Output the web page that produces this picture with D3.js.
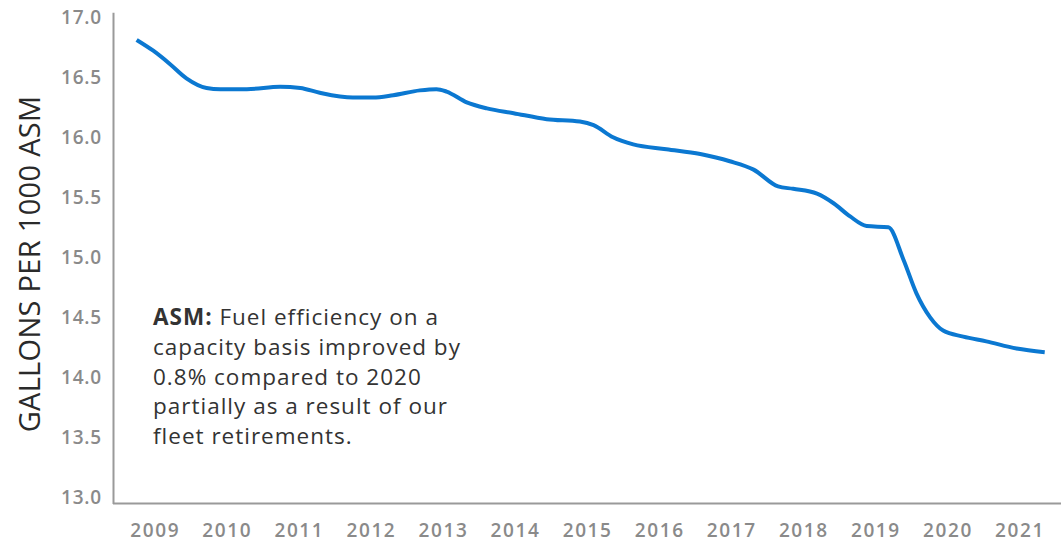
<!DOCTYPE html>
<html>
<head>
<meta charset="utf-8">
<script src="https://cdn.jsdelivr.net/npm/d3@7"></script>
<style>
  html, body { margin: 0; padding: 0; background: #fff; }
  svg { display: block; }
</style>
</head>
<body>
<svg id="chart" width="1061" height="543"></svg>
<script>
// Fuel efficiency, gallons per 1000 available seat miles, by year (fractional year positions)
const years = [2008.75, 2008.98, 2009.21, 2009.44, 2009.72, 2009.91, 2010.28, 2010.74, 2011.02,
  2011.29, 2011.75, 2012.03, 2012.31, 2012.68, 2012.91, 2013.05, 2013.33, 2013.61, 2013.98,
  2014.44, 2014.90, 2015.09, 2015.36, 2015.64, 2016.10, 2016.57, 2016.98, 2017.31, 2017.65,
  2017.86, 2018.19, 2018.42, 2018.65, 2018.88, 2019.18, 2019.39, 2019.57, 2019.76, 2019.94,
  2020.22, 2020.54, 2020.96, 2021.35];
const gallonsPerASM = [16.86, 16.77, 16.66, 16.54, 16.46, 16.45, 16.45, 16.47, 16.46,
  16.42, 16.38, 16.38, 16.40, 16.44, 16.45, 16.43, 16.34, 16.29, 16.25,
  16.20, 16.18, 16.15, 16.05, 15.99, 15.95, 15.91, 15.85, 15.78, 15.64,
  15.62, 15.58, 15.50, 15.39, 15.31, 15.30, 15.03, 14.75, 14.55, 14.44,
  14.39, 14.35, 14.29, 14.26];

const yearLabels = [2009, 2010, 2011, 2012, 2013, 2014, 2015, 2016, 2017, 2018, 2019, 2020, 2021];
const yTicks = [13.0, 13.5, 14.0, 14.5, 15.0, 15.5, 16.0, 16.5, 17.0];

const axisTitle = "GALLONS PER 1000 ASM";
const noteBold = "ASM:";
const noteLines = [" Fuel efficiency on a", "capacity basis improved by", "0.8% compared to 2020",
  "partially as a result of our", "fleet retirements."];

const svg = d3.select("#chart");

const x = d3.scaleLinear().domain([2009, 2021]).range([154.7, 1019.5]);
const y = d3.scaleLinear().domain([13, 17.09]).range([503.5, 12.3]);

const axisColor = "#9a9a9a";
const tickColor = "#8a8a8a";
const tickFont = (g, spacing) => g
  .attr("fill", tickColor)
  .style("font-family", "'Open Sans', sans-serif")
  .style("font-weight", 600)
  .style("font-size", "19px")
  .style("letter-spacing", spacing);

// y axis
const yAxis = svg.append("g")
  .attr("transform", "translate(113,0)")
  .call(d3.axisLeft(y).tickValues(yTicks).tickSize(0).tickPadding(11)
    .tickFormat(d3.format(".1f")));
yAxis.select(".domain").attr("stroke", axisColor).attr("stroke-width", 2);
yAxis.selectAll("text").call(tickFont, "0.8px").attr("dy", "0em");

// x axis
const xAxisG = svg.append("g").attr("transform", "translate(0,503.5)");
xAxisG.append("line")
  .attr("x1", 113).attr("x2", 1061)
  .attr("stroke", axisColor).attr("stroke-width", 2);
xAxisG.append("g")
  .call(d3.axisBottom(x).tickValues(yearLabels).tickSize(0).tickPadding(20).tickFormat(d3.format("d")))
  .call(a => a.select(".domain").remove())
  .selectAll("text").call(tickFont, "1.6px");

// y axis title
svg.append("text")
  .attr("transform", "translate(40,264) rotate(-90)")
  .attr("text-anchor", "middle")
  .attr("fill", "#2a2a2a")
  .style("font-family", "'Open Sans', sans-serif")
  .style("font-weight", 400)
  .style("font-size", "29px")
  .style("letter-spacing", "0.3px")
  .text(axisTitle);

// the fuel-efficiency line
const line = d3.line()
  .x((d, i) => x(years[i]))
  .y(d => y(d))
  .curve(d3.curveMonotoneX);

svg.append("path")
  .datum(gallonsPerASM)
  .attr("fill", "none")
  .attr("stroke", "#0b78d1")
  .attr("stroke-width", 4)
  .attr("stroke-linejoin", "round")
  .attr("d", line);

// annotation
const note = svg.append("text")
  .attr("fill", "#333")
  .style("font-family", "'Open Sans', sans-serif")
  .style("font-size", "22.5px")
  .style("letter-spacing", "1px");
noteLines.forEach((t, i) => {
  const ts = note.append("tspan").attr("x", 153).attr("y", 325 + i * 29.75);
  if (i === 0) {
    ts.append("tspan").style("font-weight", 700).text(noteBold);
    ts.append("tspan").text(t);
  } else {
    ts.text(t);
  }
});
</script>
</body>
</html>
